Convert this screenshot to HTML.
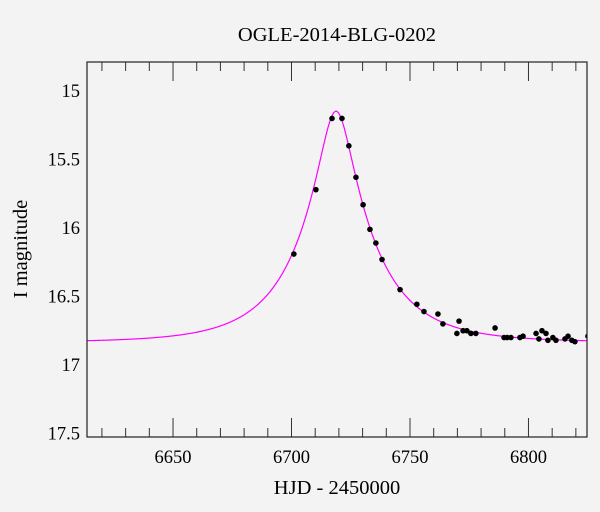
<!DOCTYPE html>
<html><head><meta charset="utf-8"><style>
body{margin:0;background:#f3f3f3;}
svg{display:block;font-family:"Liberation Serif",serif;}
</style></head><body>
<svg id="chart" width="600" height="512">
<rect width="600" height="512" fill="#f3f3f3"/>
<text x="337" y="41" font-size="20.5" text-anchor="middle">OGLE-2014-BLG-0202</text>
<text x="337" y="494" font-size="20.5" text-anchor="middle">HJD - 2450000</text>
<text transform="translate(27,249) rotate(-90)" font-size="20.5" text-anchor="middle">I magnitude</text>
<defs><clipPath id="clip"><rect x="87" y="62" width="500" height="375"/></clipPath></defs>
<g id="ticks"></g>
<g id="series" clip-path="url(#clip)"></g>
<rect x="87" y="62" width="500" height="375" fill="none" stroke="#222" stroke-width="1.2"/>
</svg>
<script>
const obsTime=[6701.0,6710.3,6717.1,6721.3,6724.2,6727.2,6730.2,6733.1,6735.6,6738.2,6745.8,6752.9,6755.9,6761.8,6763.9,6769.8,6770.7,6772.4,6774.0,6775.7,6777.8,6785.9,6789.7,6791.0,6792.6,6796.4,6797.7,6803.2,6804.4,6805.7,6807.4,6808.2,6810.3,6811.6,6815.4,6816.7,6818.3,6819.6,6825.1];
const obsMag=[16.19,15.72,15.20,15.20,15.40,15.63,15.83,16.01,16.11,16.23,16.45,16.557,16.61,16.628,16.70,16.77,16.68,16.75,16.75,16.77,16.77,16.73,16.80,16.80,16.80,16.80,16.79,16.77,16.81,16.75,16.77,16.82,16.80,16.82,16.81,16.79,16.82,16.83,16.79];
const modelT0=[6718.8];
const modelTE=[31.2];
const modelU0=[0.215];
const modelBase=[16.835];
const xTickLabels=[6650,6700,6750,6800];
const yTickLabels=["15","15.5","16","16.5","17","17.5"];
const xMin=6613.7,xMax=6824.7,yMin=14.788,yMax=17.526;
const L=87,R=587,T=62,B=437;
const X=t=>L+(t-xMin)/(xMax-xMin)*(R-L);
const Y=m=>T+(m-yMin)/(yMax-yMin)*(B-T);
const NS="http://www.w3.org/2000/svg";
const svg=document.getElementById('chart'),tg=document.getElementById('ticks'),sg=document.getElementById('series');
function mk(tag,attrs,parent){const e=document.createElementNS(NS,tag);for(const k in attrs)e.setAttribute(k,attrs[k]);parent.appendChild(e);return e;}
for(let v=6620;v<=6820;v+=10){
  const major=v%50===0,len=major?19:9,x=X(v);
  const a=mk('line',{x1:x,x2:x,y1:B,y2:B-len,stroke:'#333','stroke-width':1},tg);
  
  
  const b=mk('line',{x1:x,x2:x,y1:T,y2:T+len,stroke:'#333','stroke-width':1},tg);
  
  
}
xTickLabels.forEach(v=>{
  const t=mk('text',{x:X(v),y:463,'font-size':18.5,'text-anchor':'middle'},tg);t.textContent=v;
  
  
});
for(let i=9;i<=35;i++){
  const v=i/10,major=i%5===0,len=major?19:10,y=Y(v);
  const a=mk('line',{x1:L,x2:L+len,y1:y,y2:y,stroke:'#333','stroke-width':1},tg);
  
  
  const b=mk('line',{x1:R,x2:R-len,y1:y,y2:y,stroke:'#333','stroke-width':1},tg);
  
  
}
yTickLabels.forEach(s=>{
  const t=mk('text',{x:80,y:Y(parseFloat(s))+6,'font-size':18.5,'text-anchor':'end'},tg);t.textContent=s;
  
  
});
let pts=[];
for(let t=xMin-2;t<=xMax+2;t+=0.25){
  const tau=(t-modelT0[0])/modelTE[0],u=Math.sqrt(modelU0[0]*modelU0[0]+tau*tau);
  const A=(u*u+2)/(u*Math.sqrt(u*u+4));
  pts.push(X(t).toFixed(2)+','+Y(modelBase[0]-2.5*Math.log10(A)).toFixed(2));
}
const pl=mk('polyline',{points:pts.join(' '),fill:'none',stroke:'#ff00ff','stroke-width':1.2},sg);


obsTime.forEach((t,i)=>{
  const c=mk('circle',{cx:X(t),cy:Y(obsMag[i]),r:2.8,fill:'#000'},sg);
  
  
});
</script>
</body></html>
